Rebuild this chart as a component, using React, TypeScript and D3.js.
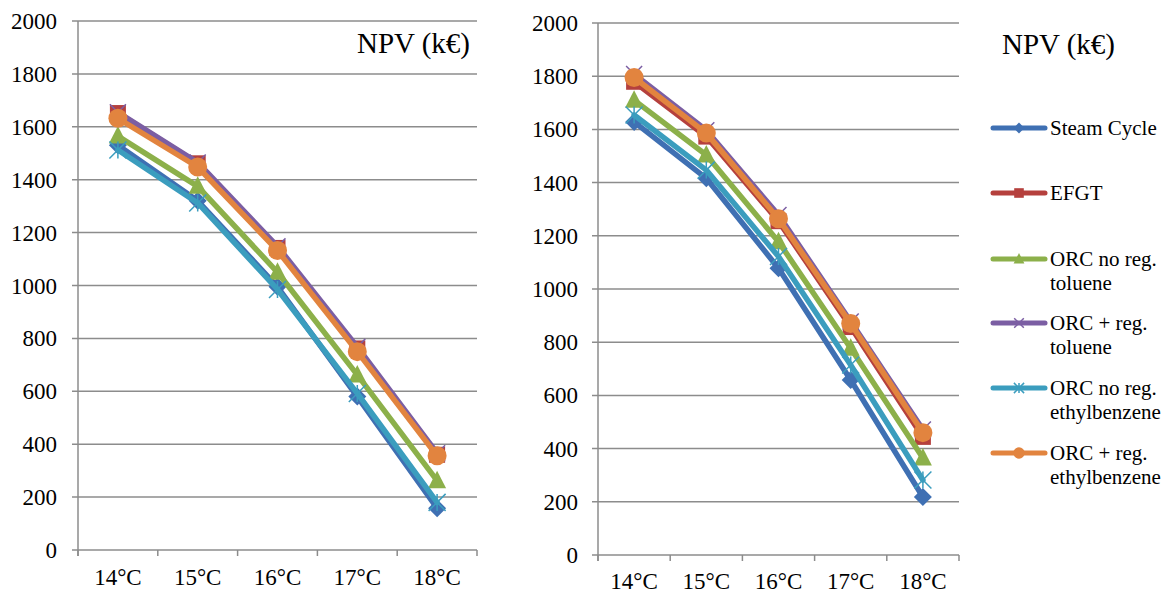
import React from "react";
import * as d3 from "d3";

const categories = ["14°C", "15°C", "16°C", "17°C", "18°C"];
const yTicks = [0, 200, 400, 600, 800, 1000, 1200, 1400, 1600, 1800, 2000];

const seriesNames = [
  "Steam Cycle",
  "EFGT",
  "ORC no reg. toluene",
  "ORC + reg. toluene",
  "ORC no reg. ethylbenzene",
  "ORC + reg. ethylbenzene",
];
const legendLines = [
  ["Steam Cycle"],
  ["EFGT"],
  ["ORC no reg.", "toluene"],
  ["ORC + reg.", "toluene"],
  ["ORC no reg.", "ethylbenzene"],
  ["ORC + reg.", "ethylbenzene"],
];
const colors = ["#3F70B3", "#B5403D", "#8CB04A", "#7B5EA3", "#3B9DBE", "#E2843F"];
const markers = ["diamond", "square", "triangle", "x", "star", "circle"];

// Left chart values
const leftSteam = [1530, 1320, 995, 580, 158];
const leftEFGT = [1652, 1462, 1142, 762, 360];
const leftOrcNoTol = [1565, 1375, 1050, 662, 262];
const leftOrcRegTol = [1655, 1465, 1148, 768, 366];
const leftOrcNoEth = [1512, 1312, 985, 592, 180];
const leftOrcRegEth = [1632, 1448, 1132, 750, 356];

// Right chart values
const rightSteam = [1628, 1416, 1078, 658, 218];
const rightEFGT = [1779, 1573, 1255, 857, 444];
const rightOrcNoTol = [1710, 1504, 1178, 777, 365];
const rightOrcRegTol = [1808, 1597, 1278, 878, 472];
const rightOrcNoEth = [1654, 1447, 1122, 714, 282];
const rightOrcRegEth = [1795, 1586, 1264, 870, 460];

const leftData = [leftSteam, leftEFGT, leftOrcNoTol, leftOrcRegTol, leftOrcNoEth, leftOrcRegEth];
const rightData = [rightSteam, rightEFGT, rightOrcNoTol, rightOrcRegTol, rightOrcNoEth, rightOrcRegEth];

const FONT = '"Liberation Serif", "Times New Roman", serif';
const GRID = "#8C8C8C";

function Marker({ type, x, y, color, scale = 1 }: { type: string; x: number; y: number; color: string; scale?: number }) {
  const s = scale;
  if (type === "diamond") {
    const r = 9 * s;
    return <path d={`M${x},${y - r}L${x + r},${y}L${x},${y + r}L${x - r},${y}Z`} fill={color} />;
  }
  if (type === "square") {
    const r = 8 * s;
    return <rect x={x - r} y={y - r} width={2 * r} height={2 * r} fill={color} />;
  }
  if (type === "triangle") {
    const r = 10 * s;
    return <path d={`M${x},${y - r}L${x + r * 0.9},${y + r * 0.75}L${x - r * 0.9},${y + r * 0.75}Z`} fill={color} />;
  }
  if (type === "circle") {
    return <circle cx={x} cy={y} r={9.5 * s} fill={color} />;
  }
  if (type === "x") {
    const r = 8 * s;
    return (
      <path d={`M${x - r},${y - r}L${x + r},${y + r}M${x - r},${y + r}L${x + r},${y - r}`} stroke={color} strokeWidth={1.5} />
    );
  }
  // star (x with vertical bar)
  const r = 8.5 * s;
  return (
    <path
      d={`M${x - r},${y - r}L${x + r},${y + r}M${x - r},${y + r}L${x + r},${y - r}M${x},${y - r}L${x},${y + r}`}
      stroke={color}
      strokeWidth={1.5}
    />
  );
}

function Panel({
  data,
  x0,
  x1,
  yTop,
  yBottom,
  labelX,
  catBaseline,
}: {
  data: number[][];
  x0: number;
  x1: number;
  yTop: number;
  yBottom: number;
  labelX: number;
  catBaseline: number;
}) {
  const x = d3.scaleBand<string>().domain(categories).range([x0, x1]).padding(0);
  const y = d3.scaleLinear().domain([0, 2000]).range([yBottom, yTop]);
  const line = d3
    .line<number>()
    .x((_, i) => (x(categories[i]) as number) + x.bandwidth() / 2)
    .y((d) => y(d));
  const tickXs = [...categories.map((c) => x(c) as number), x1];
  return (
    <g>
      {yTicks.map((t) => (
        <g key={t}>
          <line x1={x0 - 6} x2={x1} y1={y(t)} y2={y(t)} stroke={GRID} strokeWidth={1.5} />
          <text x={labelX} y={y(t)} dy="0.35em" textAnchor="end" fontSize={23} style={{ fontFamily: FONT }} fill="#000">
            {t}
          </text>
        </g>
      ))}
      <line x1={x0} x2={x0} y1={yTop} y2={yBottom + 6} stroke={GRID} strokeWidth={1.5} />
      {tickXs.map((tx, i) => (
        <line key={i} x1={tx} x2={tx} y1={yBottom} y2={yBottom + 6} stroke={GRID} strokeWidth={1.5} />
      ))}
      {categories.map((c) => (
        <text
          key={c}
          x={(x(c) as number) + x.bandwidth() / 2}
          y={catBaseline}
          textAnchor="middle"
          fontSize={23}
          style={{ fontFamily: FONT }}
          fill="#000"
        >
          {c}
        </text>
      ))}
      {data.map((vals, si) => (
        <g key={si}>
          <path d={line(vals) || ""} fill="none" stroke={colors[si]} strokeWidth={5.5} strokeLinejoin="round" strokeLinecap="round" />
          {vals.map((v, i) => (
            <Marker
              key={i}
              type={markers[si]}
              x={(x(categories[i]) as number) + x.bandwidth() / 2}
              y={y(v)}
              color={colors[si]}
            />
          ))}
        </g>
      ))}
    </g>
  );
}

export default function App() {
  const legendY = [128, 193, 259, 323, 388, 453];
  return (
    <svg width={1168} height={597} style={{ position: "absolute", left: 0, top: 0, background: "#fff" }}>
      <rect width={1168} height={597} fill="#fff" />
      <Panel data={leftData} x0={78} x1={477} yTop={21} yBottom={550} labelX={57} catBaseline={585} />
      <Panel data={rightData} x0={598} x1={959} yTop={23} yBottom={555} labelX={578} catBaseline={589} />
      <text x={470} y={53} textAnchor="end" fontSize={29} style={{ fontFamily: FONT }} fill="#000">
        NPV (k€)
      </text>
      <text x={1115} y={54} textAnchor="end" fontSize={29} style={{ fontFamily: FONT }} fill="#000">
        NPV (k€)
      </text>
      {seriesNames.map((name, i) => (
        <g key={name}>
          <line x1={993} x2={1045} y1={legendY[i]} y2={legendY[i]} stroke={colors[i]} strokeWidth={5} strokeLinecap="round" />
          <Marker type={markers[i]} x={1019} y={legendY[i]} color={colors[i]} scale={0.6} />
          {legendLines[i].map((ln, j) => (
            <text key={j} x={1050} y={legendY[i] + j * 24} dy="0.35em" fontSize={21} style={{ fontFamily: FONT }} fill="#000">
              {ln}
            </text>
          ))}
        </g>
      ))}
    </svg>
  );
}
